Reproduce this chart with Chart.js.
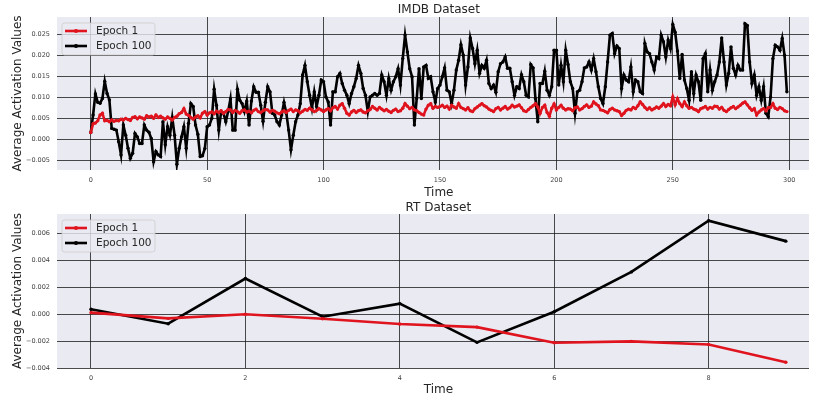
<!DOCTYPE html>
<html>
<head>
<meta charset="utf-8">
<script src="https://cdn.jsdelivr.net/npm/chart.js@4.4.1/dist/chart.umd.min.js"></script>
<style>
  html, body { margin: 0; padding: 0; background: #fff; }
  canvas { display: block; }
</style>
</head>
<body>
<canvas id="imdb" width="813" height="200"></canvas>
<canvas id="rt" width="813" height="200"></canvas>
<script>
"use strict";
// activation values below are written in units of 1e-3
const UNIT = 1e-3;

const imdbEpoch1 = [
  1.6, 3.7, 3.9, 4.4, 5.8, 6.2, 4.4, 4.5, 4.2, 4.6, 4.3, 4.5, 4.4, 4.8, 4.6, 5.0, 4.7, 4.5, 5.2, 5.4,
  4.9, 5.3, 5.1, 4.8, 5.6, 5.3, 5.5, 5.0, 5.8, 5.2, 5.5, 5.1, 4.8, 5.3, 5.0, 4.6, 5.2, 5.5, 6.1, 6.4,
  7.3, 6.0, 5.7, 5.2, 4.8, 5.3, 5.6, 5.1, 6.2, 6.6,
  5.8, 6.3, 6.5, 6.1, 6.7, 6.4, 6.8, 6.2, 6.6, 7.1, 7.0, 6.4, 6.9, 6.6, 6.2, 6.8, 7.0, 6.5, 6.7, 6.3,
  6.9, 7.2, 6.6, 6.4, 6.8, 7.1, 7.0, 6.5, 6.9, 6.7, 6.3, 6.1, 6.5, 6.8, 6.4, 6.9, 7.2, 6.6, 7.0, 6.8,
  6.3, 6.7, 7.1, 6.9, 7.4, 7.0, 6.6, 6.9, 7.3, 7.0,
  6.6, 7.0, 7.3, 6.8, 7.5, 7.8, 7.2, 8.1, 8.5, 7.4, 6.2, 5.8, 6.5, 6.9, 6.4, 6.8, 7.0, 6.5, 6.3, 6.8,
  7.1, 7.8, 7.4, 7.0, 7.6, 7.2, 6.8, 7.1, 6.7, 6.4, 6.9, 7.2, 6.6, 6.8, 7.4, 8.5, 7.9, 7.3, 7.6, 7.0,
  6.8, 6.4, 6.0, 5.8, 7.2, 8.1, 8.5, 7.4, 7.8, 7.6,
  7.8, 8.1, 7.6, 7.9, 7.2, 8.1, 7.7, 7.4, 8.5, 7.6, 7.3, 7.0, 7.5, 6.8, 6.6, 7.3, 7.7, 8.1, 8.5, 8.0,
  7.7, 7.2, 6.9, 6.6, 7.3, 7.6, 7.0, 7.4, 7.8, 7.2, 7.5, 8.1, 7.7, 7.9, 8.2, 7.5, 6.8, 6.6, 7.1, 7.6,
  8.0, 8.5, 7.7, 6.2, 7.6, 8.1, 6.4, 5.5, 7.4, 8.4,
  7.0, 7.6, 8.1, 7.4, 7.0, 7.3, 7.2, 6.8, 7.5, 7.7, 7.0, 7.3, 7.8, 8.2, 7.6, 7.9, 8.9, 8.4, 8.0, 7.0,
  6.9, 6.6, 6.3, 7.1, 7.4, 7.0, 6.8, 6.6, 5.7, 6.2, 6.9, 7.2, 7.0, 7.6, 7.3, 8.0, 8.9, 8.3, 7.6, 7.1,
  7.5, 7.0, 7.3, 7.7, 7.4, 7.9, 8.5, 7.8, 8.3, 8.0,
  10.1, 8.2, 9.7, 8.5, 7.8, 8.9, 8.0, 7.4, 7.6, 7.2, 7.0, 6.6, 7.3, 7.5, 7.8, 7.2, 7.6, 7.4, 7.9, 7.8,
  7.2, 7.6, 6.9, 6.6, 7.1, 7.5, 7.8, 7.3, 7.7, 8.1, 8.6, 8.9, 8.2, 7.5, 6.9, 7.3, 5.8, 6.5, 7.0, 7.3,
  6.8, 7.5, 7.6, 8.5, 7.4, 7.1, 7.6, 7.3, 6.8, 6.6
];

const imdbEpoch100 = [
  1.6, 5.8, 10.8, 8.8, 8.6, 9.7, 13.8, 10.9, 9.4, 2.6, 2.4, 2.2, -0.6, -3.7, 3.4, 1.0, -2.1, -4.5, -3.3, 1.4,
  0.6, -1.0, -1.0, 3.4, 2.2, 1.7, 0.2, -5.3, -2.9, -3.7, -4.1, 4.2, -1.3, 3.0, 1.0, 5.2, 1.0, -5.9, -2.1, 0.6,
  3.0, -2.1, 3.8, 8.5, 7.8, 3.4, 1.2, -4.1, -3.9, -2.2,
  3.0, 3.4, 5.0, 11.9, 8.1, 2.2, 6.6, 6.2, 4.2, 6.6, 9.6, 2.2, 2.2, 11.9, 9.3, 8.5, 6.6, 9.1, 3.4, 9.1,
  12.5, 11.2, 11.2, 8.1, 4.3, 8.8, 12.5, 11.3, 6.2, 5.8, 4.2, 3.4, 5.8, 8.8, 6.2, 2.2, -2.5, 1.0, 4.2, 5.8,
  8.5, 15.3, 17.6, 13.7, 10.5, 7.4, 11.3, 7.8, 10.5, 14.1,
  13.7, 10.1, 8.9, 3.4, 11.3, 11.3, 14.9, 15.7, 13.3, 11.7, 10.5, 8.5, 10.9, 12.5, 14.5, 17.6, 15.7, 12.1, 10.5, 6.6,
  10.1, 10.5, 10.9, 10.5, 10.9, 15.3, 13.7, 10.5, 14.5, 11.7, 13.7, 14.9, 16.8, 12.9, 19.2, 24.8, 20.8, 16.8, 14.9, 3.4,
  9.7, 16.8, 9.7, 17.2, 17.6, 14.5, 14.9, 11.3, 8.9, 12.1,
  12.9, 14.9, 17.0, 11.7, 11.3, 8.5, 11.7, 16.5, 18.8, 22.5, 20.0, 12.9, 17.2, 24.1, 21.6, 18.0, 21.2, 15.7, 17.6, 16.9,
  18.8, 13.3, 12.1, 12.9, 11.2, 16.1, 18.0, 18.4, 19.6, 16.9, 16.9, 13.7, 10.5, 12.5, 12.1, 15.4, 13.7, 10.5, 10.1, 17.8,
  17.0, 9.7, 4.2, 13.3, 13.3, 16.2, 11.7, 10.5, 12.5, 21.2,
  21.2, 12.9, 17.6, 13.7, 21.2, 17.8, 13.7, 12.1, 6.2, 11.3, 11.7, 13.7, 17.0, 17.2, 18.4, 16.5, 19.2, 16.1, 12.5, 9.7,
  8.5, 12.5, 18.4, 24.8, 25.2, 20.4, 22.2, 21.6, 12.1, 15.3, 14.1, 13.7, 17.2, 11.3, 14.1, 13.7, 11.3, 10.9, 22.8, 20.8,
  20.4, 18.4, 16.5, 19.6, 19.2, 24.8, 23.2, 19.6, 23.6, 21.6,
  27.3, 25.5, 21.0, 14.5, 20.2, 14.1, 12.1, 9.3, 16.1, 10.9, 15.3, 13.7, 9.3, 19.2, 20.4, 11.3, 16.5, 11.7, 13.7, 15.3,
  18.4, 24.1, 18.4, 12.9, 15.7, 22.0, 16.9, 15.3, 17.6, 16.5, 16.5, 27.5, 27.1, 18.4, 13.3, 15.3, 10.5, 12.5, 9.3, 12.5,
  6.2, 5.4, 10.1, 19.2, 22.4, 22.0, 21.2, 24.0, 20.0, 11.3
];

const rtEpoch1   = [0.10, -0.32, -0.02, -0.35, -0.74, -0.97, -2.13, -2.03, -2.26, -3.57];
const rtEpoch100 = [0.35, -0.72, 2.63, -0.20, 0.77, -2.10, 0.17, 3.12, 6.91, 5.40];

const imdbSteps = imdbEpoch1.map((_, i) => i);
const rtSteps = rtEpoch1.map((_, i) => i);

const imdbXTicks = [0, 50, 100, 150, 200, 250, 300];
const imdbYTicks = [-0.005, 0, 0.005, 0.010, 0.015, 0.020, 0.025];
const rtXTicks = [0, 2, 4, 6, 8];
const rtYTicks = [-0.004, -0.002, 0, 0.002, 0.004, 0.006];

const FONT = '"DejaVu Sans", "Liberation Sans", sans-serif';
const RED = "#e0141e";
const BLACK = "#000000";
const GRID = "rgba(30,30,30,0.8)";

const fmtY = v => (Math.abs(v) < 1e-12 ? 0 : v).toFixed(3).replace("-", "\u2212");
const toPoints = (xs, ys) => xs.map((x, i) => ({ x: x, y: ys[i] * UNIT }));

// plot background, titles, axis labels and the boxed legend
const frame = {
  id: "frame",
  beforeDraw(chart) {
    const a = chart.chartArea, ctx = chart.ctx;
    ctx.save();
    ctx.fillStyle = "#eaeaf2";
    ctx.fillRect(a.left, a.top, a.right - a.left, a.bottom - a.top);
    ctx.restore();
  },
  afterDraw(chart, args, opts) {
    const a = chart.chartArea, ctx = chart.ctx;
    const xs = chart.scales.x;
    const steps = chart.data.datasets[0].data.map(p => p.x);
    const midX = xs.getPixelForValue((steps[0] + steps[steps.length - 1]) / 2);
    ctx.save();
    ctx.fillStyle = "#262626";
    ctx.font = "12px " + FONT;
    ctx.textAlign = "center";
    ctx.textBaseline = "alphabetic";
    ctx.fillText(opts.title, midX, opts.titleY);
    ctx.fillText("Time", midX, opts.timeY);
    ctx.translate(21, (a.top + a.bottom) / 2);
    ctx.rotate(-Math.PI / 2);
    ctx.fillText("Average Activation Values", 0, 0);
    ctx.restore();

    // legend
    const bx = a.left + 5, by = a.top + 6, bw = 93, bh = 32, r = 2.5;
    ctx.save();
    ctx.beginPath();
    ctx.moveTo(bx + r, by);
    ctx.arcTo(bx + bw, by, bx + bw, by + bh, r);
    ctx.arcTo(bx + bw, by + bh, bx, by + bh, r);
    ctx.arcTo(bx, by + bh, bx, by, r);
    ctx.arcTo(bx, by, bx + bw, by, r);
    ctx.closePath();
    ctx.fillStyle = "rgba(234,234,242,0.8)";
    ctx.fill();
    ctx.strokeStyle = "rgba(204,204,204,0.8)";
    ctx.lineWidth = 1;
    ctx.stroke();
    chart.data.datasets.forEach((ds, i) => {
      const ry = by + 8 + i * 15;
      ctx.strokeStyle = ds.borderColor;
      ctx.lineWidth = ds.borderWidth;
      ctx.beginPath();
      ctx.moveTo(bx + 3, ry);
      ctx.lineTo(bx + 25, ry);
      ctx.stroke();
      ctx.fillStyle = ds.borderColor;
      ctx.beginPath();
      ctx.arc(bx + 14, ry, ds.pointRadius + 0.4, 0, Math.PI * 2);
      ctx.fill();
      ctx.fillStyle = "#262626";
      ctx.font = "10.5px " + FONT;
      ctx.textAlign = "left";
      ctx.textBaseline = "middle";
      ctx.fillText(ds.label, bx + 34, ry + 0.5);
    });
    ctx.restore();
  }
};

function series(label, color, xs, ys) {
  return {
    label: label,
    data: toPoints(xs, ys),
    borderColor: color,
    backgroundColor: color,
    pointBackgroundColor: color,
    borderWidth: 2.6,
    pointRadius: 1.7,
    pointBorderWidth: 0,
    tension: 0
  };
}

function makeChart(id, cfg) {
  return new Chart(document.getElementById(id), {
    type: "line",
    data: {
      datasets: [
        series("Epoch 1", RED, cfg.steps, cfg.epoch1),
        series("Epoch 100", BLACK, cfg.steps, cfg.epoch100)
      ]
    },
    options: {
      responsive: false,
      animation: false,
      layout: { padding: { top: cfg.top, left: 0, right: 0, bottom: 0 } },
      plugins: {
        legend: { display: false },
        tooltip: { enabled: false },
        frame: { title: cfg.title, titleY: cfg.titleY, timeY: cfg.timeY }
      },
      scales: {
        x: {
          type: "linear",
          min: cfg.xMin, max: cfg.xMax,
          afterFit: s => { s.height = cfg.xAxisH; },
          afterBuildTicks: s => { s.ticks = cfg.xTicks.map(v => ({ value: v })); },
          border: { display: false },
          grid: { color: GRID, lineWidth: 1, drawTicks: false },
          ticks: { color: "#444", font: { family: FONT, size: 6.5 }, padding: 6, maxRotation: 0 }
        },
        y: {
          min: cfg.yMin, max: cfg.yMax,
          afterFit: s => { s.width = 57; },
          afterBuildTicks: s => { s.ticks = cfg.yTicks.map(v => ({ value: v })); },
          border: { display: false },
          grid: { color: GRID, lineWidth: 1, drawTicks: false },
          ticks: { color: "#444", font: { family: FONT, size: 6.5 }, padding: 7, callback: fmtY }
        }
      }
    },
    plugins: [frame]
  });
}

makeChart("imdb", {
  title: "IMDB Dataset", titleY: 13, timeY: 196,
  steps: imdbSteps, epoch1: imdbEpoch1, epoch100: imdbEpoch100,
  xMin: -14.5, xMax: 308.5, yMin: -0.00729, yMax: 0.0291,
  xTicks: imdbXTicks, yTicks: imdbYTicks,
  top: 17, xAxisH: 30
});

makeChart("rt", {
  title: "RT Dataset", titleY: 11, timeY: 193,
  steps: rtSteps, epoch1: rtEpoch1, epoch100: rtEpoch100,
  xMin: -0.44, xMax: 9.3, yMin: -0.004, yMax: 0.00741,
  xTicks: rtXTicks, yTicks: rtYTicks,
  top: 14, xAxisH: 32
});
</script>
</body>
</html>
